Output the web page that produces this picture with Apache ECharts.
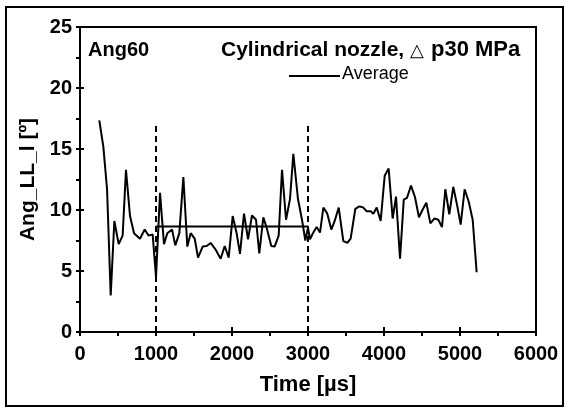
<!DOCTYPE html>
<html><head><meta charset="utf-8">
<script src="https://cdn.jsdelivr.net/npm/echarts@6/dist/echarts.min.js"></script>
<style>html,body{margin:0;padding:0;background:#fff}#c{width:568px;height:410px}</style>
</head><body><div id="c"></div>
<script>
const times = [254,307,356,404,452,509,561,605,658,711,789,851,903,956,1000,1053,1105,1149,1211,1254,1307,1360,1412,1456,1509,1553,1614,1667,1719,1780,1851,1904,1956,2009,2061,2105,2158,2211,2263,2316,2359,2412,2456,2517,2561,2614,2658,2711,2763,2807,2868,2921,2965,3000,3026,3070,3114,3158,3202,3254,3307,3351,3404,3465,3518,3561,3623,3675,3728,3772,3825,3860,3904,3956,4009,4061,4114,4158,4211,4260,4303,4355,4408,4460,4505,4557,4610,4662,4715,4763,4807,4859,4912,4965,5009,5061,5114,5167,5219];
const angValues = [17.35,15.2,11.7,3.0,9.1,7.2,7.9,13.3,9.5,8.1,7.65,8.4,7.9,8.0,4.5,11.4,7.2,8.1,8.4,7.1,8.1,12.7,7.0,8.1,7.65,6.1,7.0,7.05,7.3,6.8,6.0,7.05,6.1,9.5,8.1,6.4,9.7,7.6,9.55,9.2,6.45,9.4,8.55,7.05,7.0,7.9,13.3,9.2,10.9,14.6,10.9,9.2,7.5,8.55,7.6,8.15,8.6,8.15,10.2,9.7,8.4,9.1,10.2,7.45,7.3,7.65,10.1,10.3,10.2,9.9,9.9,9.7,10.2,9.1,12.8,13.4,9.3,11.1,6.0,10.85,11.0,12.0,11.05,9.4,10.0,10.6,8.9,9.3,9.2,8.6,11.7,9.65,11.9,10.3,8.8,11.7,10.7,9.2,4.9];
const avgRange = [1000, 3000];
const avgValue = 8.65;
const markerTimes = [1000, 3000];
const markerTop = 17.2;
const xTicks = [0,1000,2000,3000,4000,5000,6000];
const yTicks = [0,5,10,15,20,25];

const FONT = '"Liberation Sans", Arial, sans-serif';
const chart = echarts.init(document.getElementById('c'), null, {renderer:'canvas'});
const grid = {left:80, right:32, top:27, bottom:78, show:true, borderColor:'#000', borderWidth:2, backgroundColor:'transparent'};
const baseX = {type:'value', min:xTicks[0], max:xTicks[xTicks.length-1], interval:1000};
const baseY = {type:'value', min:yTicks[0], max:yTicks[yTicks.length-1], interval:5};
const option = {
  animation:false,
  grid: grid,
  xAxis: [
    Object.assign({}, baseX, {
      axisLine:{show:true, onZero:false, lineStyle:{color:'#000', width:2}},
      axisTick:{show:true, inside:false, length:4, lineStyle:{color:'#000', width:2}},
      minorTick:{show:true, splitNumber:2, length:4, lineStyle:{color:'#000', width:2}},
      splitLine:{show:false},
      axisLabel:{color:'#000', fontFamily:FONT, fontWeight:'bold', fontSize:20, margin:12, formatter:v=>String(v)},
      name:'Time [\u00b5s]', nameLocation:'middle', nameGap:42,
      nameTextStyle:{color:'#000', fontFamily:FONT, fontWeight:'bold', fontSize:22}
    }),
    Object.assign({}, baseX, {
      position:'bottom',
      axisLine:{show:false, onZero:false},
      axisTick:{show:true, inside:true, length:5, lineStyle:{color:'#000', width:2}},
      axisLabel:{show:false}, splitLine:{show:false}
    })
  ],
  yAxis: [
    Object.assign({}, baseY, {
      axisLine:{show:true, onZero:false, lineStyle:{color:'#000', width:2}},
      axisTick:{show:true, inside:false, length:4, lineStyle:{color:'#000', width:2}},
      minorTick:{show:true, splitNumber:2, length:4, lineStyle:{color:'#000', width:2}},
      splitLine:{show:false},
      axisLabel:{color:'#000', fontFamily:FONT, fontWeight:'bold', fontSize:20, margin:8},
      name:'Ang_LL_l [\u00ba]', nameLocation:'middle', nameGap:38, nameRotate:90,
      nameTextStyle:{color:'#000', fontFamily:FONT, fontWeight:'bold', fontSize:21}
    }),
    Object.assign({}, baseY, {
      position:'left',
      axisLine:{show:false, onZero:false},
      axisTick:{show:true, inside:true, length:4, lineStyle:{color:'#000', width:2}},
      axisLabel:{show:false}, splitLine:{show:false}
    })
  ],
  series: [
    {type:'line', data: times.map((t,i)=>[t, angValues[i]]), symbol:'none',
     lineStyle:{color:'#000', width:2}},
    {type:'line', data: avgRange.map(t=>[t, avgValue]), symbol:'none',
     lineStyle:{color:'#000', width:2}},
    {type:'line', data: [[markerTimes[0],0],[markerTimes[0],markerTop]], symbol:'none',
     lineStyle:{color:'#000', width:2, type:[6,4]}},
    {type:'line', data: [[markerTimes[1],0],[markerTimes[1],markerTop]], symbol:'none',
     lineStyle:{color:'#000', width:2, type:[6,4]}}
  ],
  graphic: [
    {type:'rect', shape:{x:6, y:7, width:557, height:399}, style:{fill:'none', stroke:'#000', lineWidth:2}, silent:true},
    {type:'text', left:88, top:40, style:{text:'Ang60', fill:'#000', font:'bold 20px ' + FONT}},
    {type:'text', left:221, top:40, style:{text:'Cylindrical nozzle,', fill:'#000', font:'bold 21px ' + FONT}},
    {type:'text', left:410, top:42, style:{text:'\u25b3', fill:'#000', font:'18px ' + FONT}},
    {type:'text', left:431, top:39, style:{text:'p30 MPa', fill:'#000', font:'bold 22px ' + FONT}},
    {type:'line', shape:{x1:289, y1:76, x2:340, y2:76}, style:{stroke:'#000', lineWidth:2}},
    {type:'text', left:342, top:65, style:{text:'Average', fill:'#000', font:'18px ' + FONT}}
  ]
};
chart.setOption(option);
</script></body></html>
